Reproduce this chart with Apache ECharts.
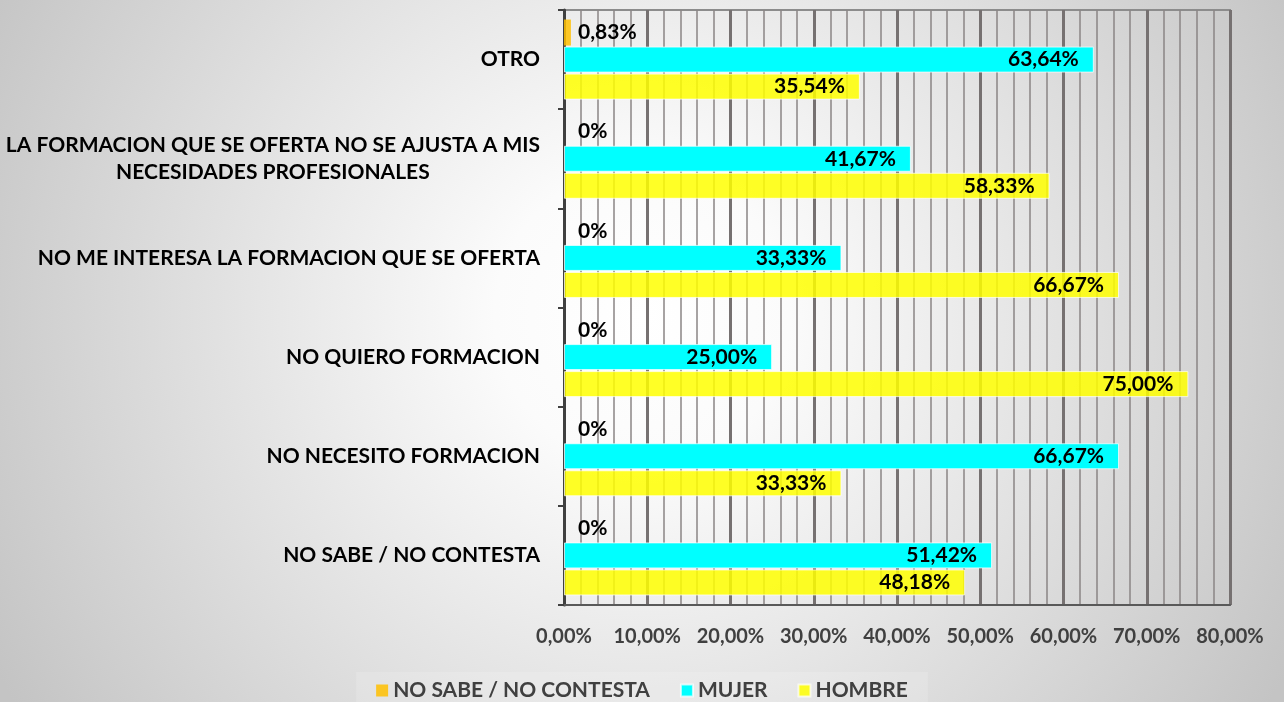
<!DOCTYPE html>
<html>
<head>
<meta charset="utf-8">
<script src="https://cdn.jsdelivr.net/npm/echarts@6/dist/echarts.min.js"></script>
<style>
  html, body { margin: 0; padding: 0; }
  #chart { width: 1284px; height: 702px; }
</style>
</head>
<body>
<div id="chart"></div>
<script>
// categorias, de arriba a abajo
var categories = [
  'OTRO',
  'LA FORMACION QUE SE OFERTA NO SE AJUSTA A MIS\nNECESIDADES PROFESIONALES',
  'NO ME INTERESA LA FORMACION QUE SE OFERTA',
  'NO QUIERO FORMACION',
  'NO NECESITO FORMACION',
  'NO SABE / NO CONTESTA'
];
var nsncValues = [0.83, 0, 0, 0, 0, 0];
var mujerValues = [63.64, 41.67, 33.33, 25.00, 66.67, 51.42];
var hombreValues = [35.54, 58.33, 66.67, 75.00, 33.33, 48.18];
var seriesNames = ['NO SABE / NO CONTESTA', 'MUJER', 'HOMBRE'];

var FONT = 'Lato';

function pct(v) {
  return v.toFixed(2).replace('.', ',') + '%';
}

var chart = echarts.init(document.getElementById('chart'));

var labelBase = {
  show: true,
  fontFamily: FONT,
  fontWeight: 'bold',
  fontSize: 21,
  color: '#000'
};

chart.setOption({
  backgroundColor: {
    type: 'radial', x: 0.5, y: 0.45, r: 1.05,
    colorStops: [
      { offset: 0, color: '#ffffff' },
      { offset: 0.2, color: '#fbfbfb' },
      { offset: 1, color: '#c4c4c4' }
    ]
  },
  animation: false,
  grid: {
    left: 564, right: 54, top: 10, bottom: 97,
    show: true, borderColor: '#8c8c8c', borderWidth: 2,
    backgroundColor: 'transparent'
  },
  legend: {
    data: seriesNames,
    bottom: -7,
    left: 'center',
    itemWidth: 12, itemHeight: 12, itemGap: 30,
    icon: 'rect',
    padding: [8, 20, 8, 20],
    backgroundColor: 'rgba(255,255,255,0.15)',
    textStyle: { fontFamily: FONT, fontWeight: 'bold', fontSize: 21, color: '#404040' }
  },
  xAxis: {
    type: 'value', min: 0, max: 80, interval: 10,
    axisLine: { show: true, lineStyle: { color: '#595959', width: 2 } },
    axisTick: { show: false },
    axisLabel: {
      margin: 22, fontFamily: FONT, fontWeight: 'bold', fontSize: 20, color: '#404040',
      formatter: function (v) { return pct(v); }
    },
    splitLine: { show: true, lineStyle: { color: '#767171', width: 3 } },
    minorTick: { show: false, splitNumber: 5 },
    minorSplitLine: { show: true, lineStyle: { color: '#8a8585', width: 1.5 } }
  },
  yAxis: {
    type: 'category', inverse: true, data: categories,
    axisLine: { show: true, lineStyle: { color: '#404040', width: 3 } },
    axisTick: { show: true, length: 6, lineStyle: { color: '#404040', width: 2 } },
    axisLabel: {
      margin: 24, fontFamily: FONT, fontWeight: 'bold', fontSize: 21, color: '#000',
      formatter: function (v) {
        return v.split('\n').map(function (s) { return '{c|' + s + '}'; }).join('\n');
      },
      rich: { c: { align: 'center', fontFamily: FONT, fontWeight: 'bold', fontSize: 21, color: '#000', lineHeight: 27 } }
    }
  },
  series: [
    {
      name: seriesNames[0], type: 'bar', data: nsncValues, barWidth: 26, barGap: '4%',
      itemStyle: { color: 'rgba(255,192,0,0.85)' },
      label: Object.assign({}, labelBase, {
        position: [14, '50%'], verticalAlign: 'middle', align: 'left',
        formatter: function (p) { return p.value === 0 ? '0%' : pct(p.value); }
      })
    },
    {
      name: seriesNames[1], type: 'bar', data: mujerValues, barWidth: 26, barGap: '4%',
      itemStyle: { color: '#00ffff', borderColor: 'rgba(255,255,255,0.7)', borderWidth: 1 },
      label: Object.assign({}, labelBase, {
        position: 'insideRight', distance: 15,
        formatter: function (p) { return pct(p.value); }
      })
    },
    {
      name: seriesNames[2], type: 'bar', data: hombreValues, barWidth: 26, barGap: '4%',
      itemStyle: { color: 'rgba(255,255,0,0.85)', borderColor: 'rgba(255,255,255,0.7)', borderWidth: 1 },
      label: Object.assign({}, labelBase, {
        position: 'insideRight', distance: 15,
        formatter: function (p) { return pct(p.value); }
      })
    }
  ]
});
</script>
</body>
</html>
